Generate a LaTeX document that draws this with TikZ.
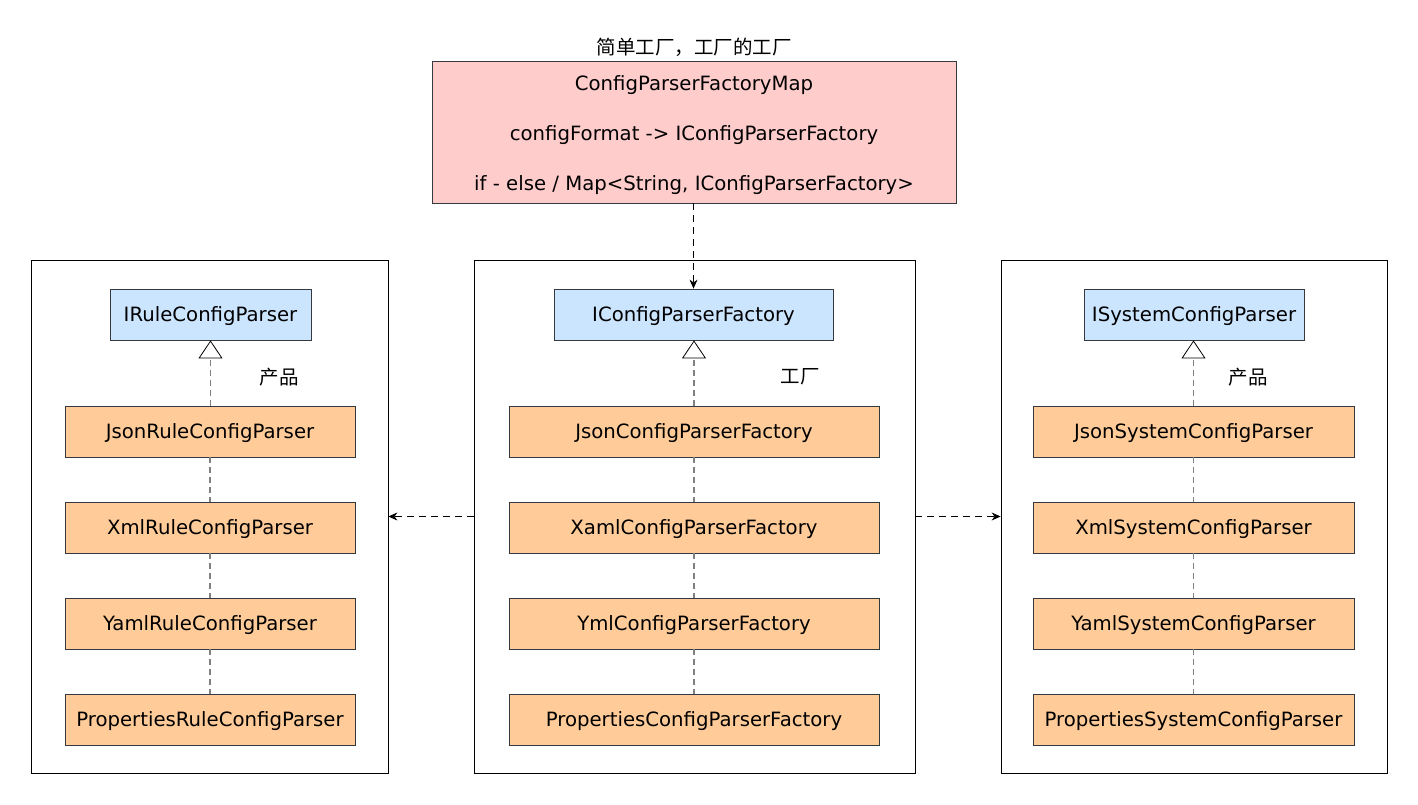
\documentclass[tikz,border=0pt]{standalone}
\usepackage{fontspec}
\setmainfont{DejaVu Sans}
\newfontfamily\cjk{Noto Sans CJK SC}
\usetikzlibrary{arrows.meta}
\definecolor{pinkfill}{HTML}{FFCCCC}
\definecolor{bluefill}{HTML}{CCE5FF}
\definecolor{orangefill}{HTML}{FFCC99}
\definecolor{boxline}{HTML}{36393D}
\definecolor{dashgray}{HTML}{808080}
\begin{document}
\begin{tikzpicture}[x=1pt,y=-1pt,
  every node/.style={font=\fontsize{19.7}{23}\selectfont, inner sep=0pt, text depth=0pt},
  container/.style={draw=black, line width=0.8pt},
  iface/.style={draw=boxline, fill=bluefill, line width=0.8pt, minimum height=51pt},
  impl/.style={draw=boxline, fill=orangefill, line width=0.8pt, minimum height=51pt},
  mapbox/.style={draw=boxline, fill=pinkfill, line width=0.8pt, minimum width=524pt, minimum height=142pt},
  chain/.style={draw=dashgray, line width=1.1pt, dash pattern=on 6pt off 4pt},
  inherit/.style={chain, -{Triangle[open, length=18pt, width=24pt, black, line width=0.8pt]}},
  depend/.style={draw=black, line width=0.9pt, dash pattern=on 7pt off 5pt, -{Stealth[length=9pt, width=8pt]}},
  cjklabel/.style={font=\cjk\fontsize{19.5}{23}\selectfont}
]
\useasboundingbox (0,0) rectangle (1418,804);

% title and map box
\node[cjklabel] (title) at (694,46) {简单工厂，工厂的工厂};
\node[mapbox] (map) at (694,132) {};
\node (m1) at (694,83) {ConfigParserFactoryMap};
\node (m2) at (694,133) {configFormat -> IConfigParserFactory};
\node (m3) at (694,183) {if - else / Map<String, IConfigParserFactory>};

% containers
\node[container, minimum width=357pt, minimum height=513pt] (cl) at (209.5,516.5) {};
\node[container, minimum width=441pt, minimum height=513pt] (cm) at (694.5,516.5) {};
\node[container, minimum width=386pt, minimum height=513pt] (cr) at (1194,516.5) {};

% left column
\node[iface, minimum width=201pt] (li) at (210.5,314.5) {IRuleConfigParser};
\node[impl, minimum width=290pt] (l1) at (210,431.5) {JsonRuleConfigParser};
\node[impl, minimum width=290pt] (l2) at (210,527.5) {XmlRuleConfigParser};
\node[impl, minimum width=290pt] (l3) at (210,623.5) {YamlRuleConfigParser};
\node[impl, minimum width=290pt] (l4) at (210,719.5) {PropertiesRuleConfigParser};
\node[cjklabel] (lp) at (279,376) {产品};

% middle column
\node[iface, minimum width=279pt] (mi) at (693.5,314.5) {IConfigParserFactory};
\node[impl, minimum width=370pt] (f1) at (694,431.5) {JsonConfigParserFactory};
\node[impl, minimum width=370pt] (f2) at (694,527.5) {XamlConfigParserFactory};
\node[impl, minimum width=370pt] (f3) at (694,623.5) {YmlConfigParserFactory};
\node[impl, minimum width=370pt] (f4) at (694,719.5) {PropertiesConfigParserFactory};
\node[cjklabel] (mp) at (800,376) {工厂};

% right column
\node[iface, minimum width=220pt] (ri) at (1194,314.5) {ISystemConfigParser};
\node[impl, minimum width=321pt] (r1) at (1193.5,431.5) {JsonSystemConfigParser};
\node[impl, minimum width=321pt] (r2) at (1193.5,527.5) {XmlSystemConfigParser};
\node[impl, minimum width=321pt] (r3) at (1193.5,623.5) {YamlSystemConfigParser};
\node[impl, minimum width=321pt] (r4) at (1193.5,719.5) {PropertiesSystemConfigParser};
\node[cjklabel] (rp) at (1248,376) {产品};

% chains
\draw[inherit] (l1.north -| li.south) -- (li.south);
\draw[chain] (l1) -- (l2);
\draw[chain] (l2) -- (l3);
\draw[chain] (l3) -- (l4);

\draw[inherit] (f1) -- (f1 |- mi.south);
\draw[chain] (f1) -- (f2);
\draw[chain] (f2) -- (f3);
\draw[chain] (f3) -- (f4);

\draw[inherit] (r1) -- (r1 |- ri.south);
\draw[chain] (r1) -- (r2);
\draw[chain] (r2) -- (r3);
\draw[chain] (r3) -- (r4);

% dependencies
\draw[depend] (map.south -| mi) -- (mi.north);
\draw[depend] (cm.west) -- (cl.east);
\draw[depend] (cm.east) -- (cr.west);
\end{tikzpicture}
\end{document}
